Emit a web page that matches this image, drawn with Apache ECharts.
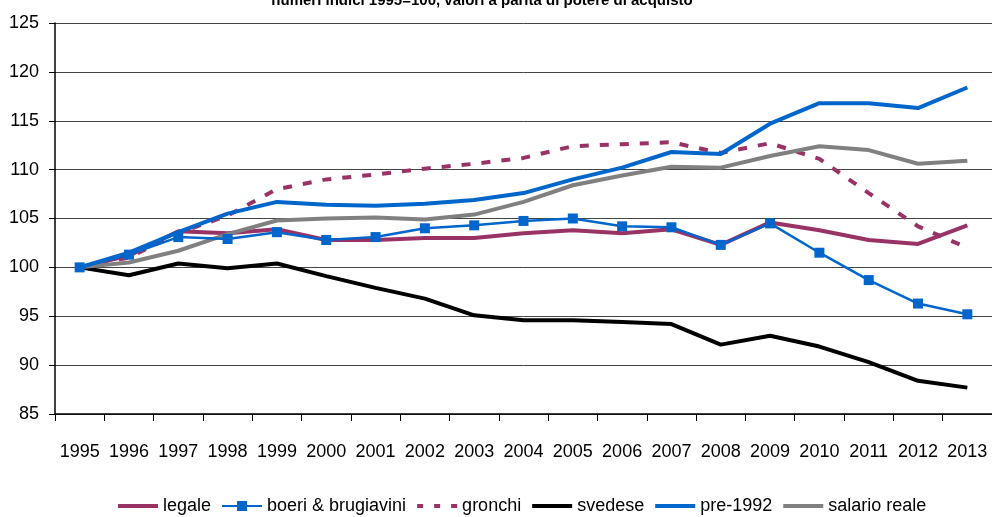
<!DOCTYPE html>
<html>
<head>
<meta charset="utf-8">
<style>
  html, body { margin: 0; padding: 0; background: #fff; }
  #chart { width: 992px; height: 517px; }
</style>
<script src="https://cdn.jsdelivr.net/npm/echarts@6/dist/echarts.min.js"></script>
</head>
<body>
<div id="chart"></div>
<script>
var years = ['1995','1996','1997','1998','1999','2000','2001','2002','2003','2004',
             '2005','2006','2007','2008','2009','2010','2011','2012','2013'];
var legale  = [100,101.2,103.7,103.5,103.9,102.8,102.8,103.0,103.0,103.5,103.8,103.5,103.9,102.3,104.6,103.8,102.8,102.4,104.3];
var boeri   = [100,101.3,103.1,102.9,103.6,102.8,103.1,104.0,104.3,104.75,105.0,104.2,104.1,102.3,104.5,101.5,98.7,96.3,95.2];
var gronchi = [100,101.0,103.5,105.3,108.0,109.0,109.5,110.1,110.6,111.2,112.4,112.6,112.8,111.7,112.7,111.1,107.6,104.2,102.0];
var svedese = [100,99.2,100.4,99.9,100.4,99.1,97.9,96.8,95.1,94.6,94.6,94.4,94.2,92.1,93.0,91.9,90.3,88.4,87.7];
var pre1992 = [100,101.5,103.6,105.5,106.7,106.4,106.3,106.5,106.9,107.6,109.0,110.2,111.8,111.6,114.7,116.8,116.8,116.3,118.4];
var salario = [100,100.5,101.7,103.4,104.8,105.0,105.1,104.9,105.4,106.7,108.4,109.4,110.3,110.2,111.4,112.4,112.0,110.6,110.9];

var font = '"Liberation Sans", Arial, sans-serif';

// legend icons: plain bar, bar with square, dashes
var barIcon = 'path://M0,0H40V4H0Z';
var squareIcon = 'path://M0,4H15V0H25V4H40V6H25V10H15V6H0Z';
var dashIcon = 'path://M0,0H6V4H0Z M17,0H23V4H17Z M34,0H40V4H34Z';

var chart = echarts.init(document.getElementById('chart'));
chart.setOption({
  animation: false,
  title: {
    text: 'numeri indici 1995=100, valori a parità di potere di acquisto',
    left: 477, top: -12, textAlign: 'center',
    textStyle: { fontFamily: font, fontWeight: 'bold', fontSize: 15, color: '#000' }
  },
  legend: {
    top: 492, left: 113,
    itemWidth: 40, itemHeight: 10, itemGap: 11,
    symbolKeepAspect: true,
    textStyle: { fontFamily: font, fontSize: 18, color: '#000' },
    data: [
      { name: 'legale', icon: barIcon },
      { name: 'boeri & brugiavini', icon: squareIcon },
      { name: 'gronchi', icon: dashIcon },
      { name: 'svedese', icon: barIcon },
      { name: 'pre-1992', icon: barIcon },
      { name: 'salario reale', icon: barIcon }
    ]
  },
  grid: { left: 55, right: -1, top: 23, bottom: 103 },
  xAxis: {
    type: 'category', data: years, boundaryGap: true,
    axisLine: { lineStyle: { color: '#000', width: 1.5 } },
    axisTick: { show: true, length: 7, lineStyle: { color: '#000' } },
    axisLabel: { fontFamily: font, fontSize: 18, color: '#000', margin: 29, interval: 0 },
    splitLine: { show: false }
  },
  yAxis: {
    type: 'value', min: 85, max: 125, interval: 5,
    axisLine: { show: true, lineStyle: { color: '#000', width: 1.5 } },
    axisTick: { show: true, length: 6, lineStyle: { color: '#000' } },
    axisLabel: { fontFamily: font, fontSize: 18, color: '#000', margin: 16 },
    splitLine: { lineStyle: { color: '#444', width: 1 } }
  },
  series: [
    { name: 'legale', type: 'line', data: legale, symbol: 'none',
      lineStyle: { color: '#993366', width: 4 }, itemStyle: { color: '#993366' } },
    { name: 'gronchi', type: 'line', data: gronchi, symbol: 'none',
      lineStyle: { color: '#993366', width: 4, type: [9, 11] }, itemStyle: { color: '#993366' } },
    { name: 'svedese', type: 'line', data: svedese, symbol: 'none',
      lineStyle: { color: '#000', width: 4 }, itemStyle: { color: '#000' } },
    { name: 'salario reale', type: 'line', data: salario, symbol: 'none',
      lineStyle: { color: '#808080', width: 4 }, itemStyle: { color: '#808080' } },
    { name: 'pre-1992', type: 'line', data: pre1992, symbol: 'none',
      lineStyle: { color: '#0066cc', width: 4 }, itemStyle: { color: '#0066cc' } },
    { name: 'boeri & brugiavini', type: 'line', data: boeri, symbol: 'rect', symbolSize: 10,
      lineStyle: { color: '#0066cc', width: 2.5 }, itemStyle: { color: '#0066cc' } }
  ]
});
</script>
</body>
</html>
